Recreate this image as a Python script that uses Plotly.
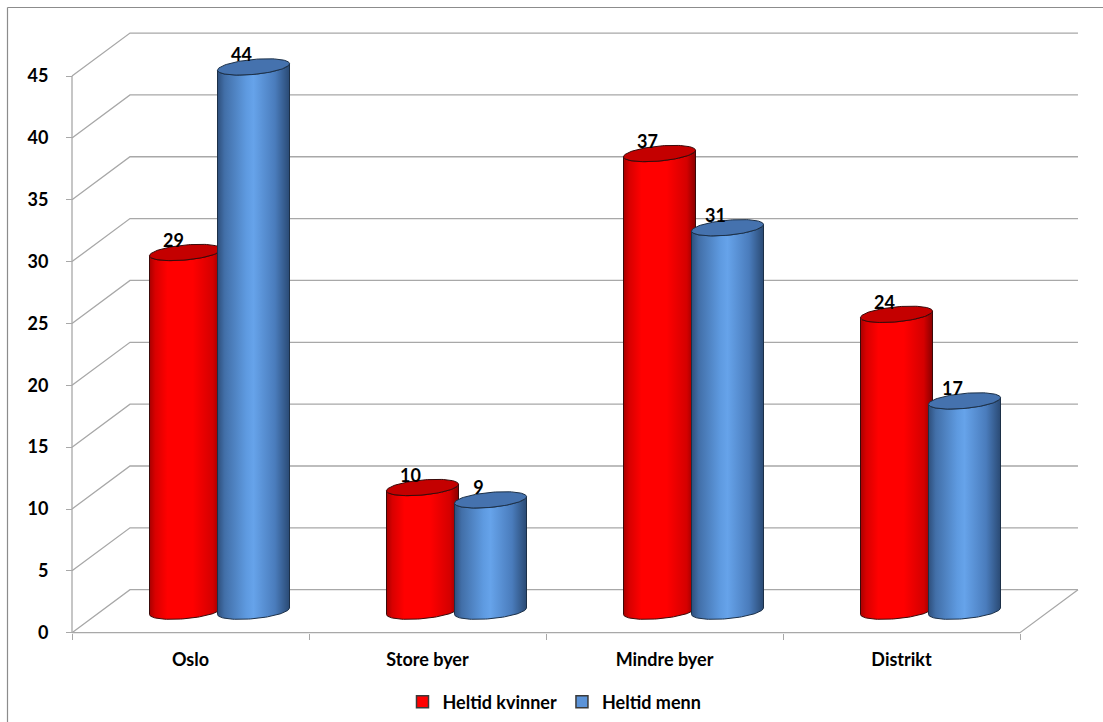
import numpy as np
import plotly.graph_objects as go

# Data
categories = ["Oslo", "Store byer", "Mindre byer", "Distrikt"]
kvinner = [29, 10, 37, 24]
menn = [44, 9, 31, 17]
series_names = ["Heltid kvinner", "Heltid menn"]
y_ticks = [0, 5, 10, 15, 20, 25, 30, 35, 40, 45]

# Figure geometry (pixels)
W, H = 1103, 722
X0_PX = 72.0       # left end of the floor's front edge
CAT_PX = 237.0     # width of one category slot
Y0_PX = 632.7      # value 0 on the front plane
VAL_PX = 12.37     # pixels per value unit
DEPTH_PX = (58.0, 43.0)  # oblique depth offset of the back wall

DX = DEPTH_PX[0] / CAT_PX
DY = DEPTH_PX[1] / VAL_PX

x_min, x_max = -0.6, 3.5 + DX + 0.1
y_min, y_max = -1.5, (Y0_PX - 10) / VAL_PX


def xpx(x):
    return X0_PX + (x + 0.5) * CAT_PX


def ypx(v):
    return Y0_PX - v * VAL_PX


x_domain = [xpx(x_min) / W, xpx(x_max) / W]
y_domain = [1 - ypx(y_min) / H, 1 - ypx(y_max) / H]

GRID = "#a8a8a8"
FONT = "Lato"

fig = go.Figure()

# 3D wall grid: each gridline runs from the front axis back to the wall, then across
gx, gy = [], []
for v in y_ticks:
    gx += [-0.5, -0.5 + DX, 3.5 + DX, None]
    gy += [v, v + DY, v + DY, None]
# floor front/right edges and the front vertical axis line
gx += [-0.5, 3.5, 3.5 + DX, None, -0.5, -0.5]
gy += [0, 0, DY, None, 0, y_ticks[-1]]
fig.add_trace(go.Scatter(x=gx, y=gy, mode="lines", line=dict(color=GRID, width=1.3),
                         hoverinfo="skip", showlegend=False))

# Cylinder shape parameters (in axis units)
RX = 36 / CAT_PX
RY = 7.5 / VAL_PX
SH = 0.09 * CAT_PX / VAL_PX
OFF = 34 / CAT_PX


def ellipse(cx, cv, t):
    c = np.cos(t)
    return cx + RX * c, cv + RY * np.sin(t) + SH * RX * c


styles = [
    dict(body=[[0, "#a80000"], [0.08, "#d80000"], [0.25, "#ff0000"], [0.6, "#ff0000"],
               [0.88, "#d40000"], [1, "#8a0000"]],
         top="#c40000", edge="#3a0a0a"),
    dict(body=[[0, "#2e4f7c"], [0.1, "#426fa8"], [0.4, "#5e9ae0"], [0.5, "#66a3ea"],
               [0.8, "#4a7cbc"], [1, "#2a4a74"]],
         top="#4572ae", edge="#1c3048"),
]

base = DY / 2
for s, (vals, st) in enumerate(zip([kvinner, menn], styles)):
    shift = -OFF if s == 0 else OFF
    lx, ly, lt = [], [], []
    for i, val in enumerate(vals):
        cx = i + DX / 2 + shift
        top = val + DY / 2
        t1 = np.linspace(np.pi, 2 * np.pi, 60)
        t2 = np.linspace(2 * np.pi, np.pi, 60)
        xb, vb = ellipse(cx, base, t1)
        xt, vt = ellipse(cx, top, t2)
        bx = np.concatenate([xb, xt, xb[:1]])
        by = np.concatenate([vb, vt, vb[:1]])
        fig.add_trace(go.Scatter(
            x=bx, y=by, mode="lines", fill="toself",
            fillgradient=dict(type="horizontal", colorscale=st["body"]),
            line=dict(color=st["edge"], width=1), hoverinfo="skip", showlegend=False))
        tt = np.linspace(0, 2 * np.pi, 120)
        ex, ev = ellipse(cx, top, tt)
        fig.add_trace(go.Scatter(
            x=ex, y=ev, mode="lines", fill="toself", fillcolor=st["top"],
            line=dict(color=st["edge"], width=1), hoverinfo="skip", showlegend=False))
        lx.append(cx - 12 / CAT_PX)
        ly.append(top + 10 / VAL_PX)
        lt.append(str(val))
    fig.add_trace(go.Scatter(
        x=lx, y=ly, mode="text", text=lt, textposition="middle center",
        textfont=dict(family=FONT, size=18, color="black", weight="bold"),
        cliponaxis=False, hoverinfo="skip", showlegend=False))

# Legend entries
for name, col in zip(series_names, ["#ff0000", "#5b93d8"]):
    fig.add_trace(go.Scatter(
        x=[None], y=[None], mode="markers", name=name,
        marker=dict(symbol="square", size=12, color=col, line=dict(color="#3a3a3a", width=1.5))))

fig.update_layout(
    width=W, height=H,
    margin=dict(l=0, r=0, t=0, b=0),
    paper_bgcolor="white", plot_bgcolor="rgba(0,0,0,0)",
    xaxis=dict(domain=x_domain, range=[x_min, x_max], anchor="free", position=1 - Y0_PX / H,
               tickmode="array", tickvals=[0, 1, 2, 3], ticktext=categories, ticks="",
               showgrid=False, zeroline=False, showline=False, automargin=False,
               ticklabelstandoff=14,
               tickfont=dict(family=FONT, size=18, color="black", weight="bold"),
               minor=dict(tickmode="array", tickvals=[-0.5, 0.5, 1.5, 2.5, 3.5], ticks="outside",
                          ticklen=6, tickwidth=1.3, tickcolor=GRID, showgrid=False),
               fixedrange=True),
    yaxis=dict(domain=y_domain, range=[y_min, y_max], anchor="free", position=X0_PX / W,
               tickmode="array", tickvals=y_ticks, ticks="outside", ticklen=6, tickwidth=1.3,
               tickcolor=GRID, showgrid=False, zeroline=False, showline=False, automargin=False,
               ticklabelstandoff=14,
               tickfont=dict(family=FONT, size=18, color="black", weight="bold"),
               fixedrange=True),
    legend=dict(orientation="h", x=554.5 / W, xanchor="center", y=1 - 702 / H, yanchor="middle",
                font=dict(family=FONT, size=18, color="black", weight="bold"),
                itemwidth=30, bgcolor="rgba(0,0,0,0)"),
    shapes=[
        dict(type="line", xref="paper", yref="paper", x0=7.5 / W, x1=1.01, y0=1 - 7.5 / H, y1=1 - 7.5 / H,
             line=dict(color="#8c8c8c", width=1.2)),
        dict(type="line", xref="paper", yref="paper", x0=7.5 / W, x1=7.5 / W, y0=1 - 7.5 / H, y1=-0.01,
             line=dict(color="#8c8c8c", width=1.2)),
    ],
)

fig.write_html("out.html")
